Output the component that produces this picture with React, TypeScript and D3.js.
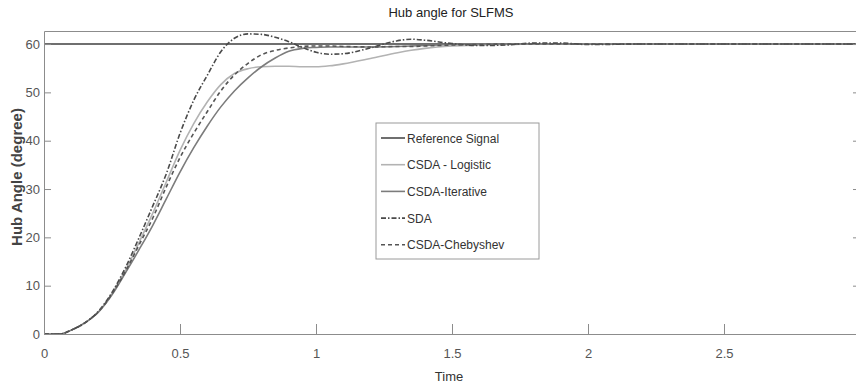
import { useEffect, useRef } from "react";
import * as d3 from "d3";

const W = 856;
const H = 387;

// time samples shared by all series
const TIME = [0, 0.06, 0.1, 0.15, 0.2, 0.25, 0.3, 0.35, 0.4, 0.45, 0.5, 0.55, 0.6, 0.65, 0.7, 0.75, 0.8, 0.85, 0.9, 0.95, 1.0, 1.05, 1.1, 1.2, 1.3, 1.35, 1.4, 1.5, 1.6, 1.7, 1.8, 1.9, 2.0, 2.2, 2.4, 2.6, 2.8, 3.0];

const REF_SIGNAL = TIME.map(() => 60);
const CSDA_LOGISTIC = [0, 0, 0.8, 2.3, 4.6, 8.4, 13.2, 19, 25, 31.5, 38, 43.5, 48, 51.6, 53.9, 54.9, 55.3, 55.4, 55.4, 55.3, 55.3, 55.5, 55.9, 57.0, 58.2, 58.7, 59.1, 59.6, 59.8, 59.9, 60, 60, 60, 60, 60, 60, 60, 60];
const CSDA_ITERATIVE = [0, 0, 0.8, 2.3, 4.5, 8.1, 12.7, 17.5, 22.5, 28, 33.5, 38.5, 43, 47, 50.3, 53, 55.3, 57.1, 58.5, 59.1, 59.3, 59.4, 59.4, 59.4, 59.5, 59.6, 59.7, 59.9, 60, 60, 60, 60, 60, 60, 60, 60, 60, 60];
const SDA = [0, 0, 0.8, 2.3, 4.7, 8.6, 13.8, 20, 26.5, 33.2, 41.5, 48.3, 53.5, 58.4, 61.2, 62.1, 62.0, 61.4, 60.5, 59.3, 58.3, 57.9, 58.0, 59.2, 60.7, 61.0, 60.8, 60.1, 59.7, 59.8, 60.2, 60.2, 59.9, 60, 60, 60, 60, 60];
const CSDA_CHEBYSHEV = [0, 0, 0.8, 2.3, 4.6, 8.3, 13, 18.5, 24, 30.5, 36.5, 41.5, 46, 50.3, 53.6, 56, 57.8, 58.7, 59.2, 59.5, 59.6, 59.6, 59.5, 59.4, 59.5, 59.5, 59.6, 59.8, 59.9, 60, 60, 60, 60, 60, 60, 60, 60, 60];

const X_TICKS = [0, 0.5, 1, 1.5, 2, 2.5, 3];
const Y_TICKS = [0, 10, 20, 30, 40, 50, 60];

const SERIES = [
  { name: "Reference Signal", values: REF_SIGNAL, color: "#6f6f6f", width: 2, dash: "" },
  { name: "CSDA - Logistic", values: CSDA_LOGISTIC, color: "#b3b3b3", width: 1.6, dash: "" },
  { name: "CSDA-Iterative", values: CSDA_ITERATIVE, color: "#7c7c7c", width: 1.6, dash: "" },
  { name: "SDA", values: SDA, color: "#4a4a4a", width: 1.6, dash: "5,2,1.5,2" },
  { name: "CSDA-Chebyshev", values: CSDA_CHEBYSHEV, color: "#555555", width: 1.6, dash: "4,3" },
];

const FONT = "'Liberation Sans', Arial, sans-serif";

export default function App() {
  const svgRef = useRef<SVGSVGElement>(null);

  useEffect(() => {
    if (!svgRef.current) return;
    const svg = d3.select(svgRef.current);
    svg.selectAll("*").remove();

    const L = 44, R = 860, T = 31, B = 334;
    const x = d3.scaleLinear().domain([0, 3]).range([L, R]);
    const y = d3.scaleLinear().domain([0, 62.7]).range([B, T]);

    svg.append("rect").attr("width", W).attr("height", H).attr("fill", "#fff");

    svg.append("defs").append("clipPath").attr("id", "plot-clip")
      .append("rect").attr("x", L).attr("y", T).attr("width", R - L).attr("height", B - T);

    // curves
    const plot = svg.append("g").attr("clip-path", "url(#plot-clip)");
    for (const s of SERIES) {
      const line = d3.line<number>()
        .x((_, i) => x(TIME[i]))
        .y(d => y(d))
        .curve(d3.curveMonotoneX);
      plot.append("path").datum(s.values)
        .attr("d", line)
        .attr("fill", "none")
        .attr("stroke", s.color)
        .attr("stroke-width", s.width)
        .attr("stroke-dasharray", s.dash || null);
    }

    const axisStyle = (g: d3.Selection<SVGGElement, unknown, null, undefined>) => {
      g.select(".domain").attr("stroke", "#8c8c8c");
      g.selectAll("line").attr("stroke", "#8c8c8c");
      g.selectAll("text").attr("fill", "#555").attr("font-size", 13).attr("font-family", FONT);
    };

    // bottom / left axes with inward ticks
    svg.append("g").attr("transform", `translate(0,${B})`)
      .call(d3.axisBottom(x).tickValues(X_TICKS).tickSizeInner(-10).tickSizeOuter(0).tickPadding(15).tickFormat(d => `${d}`))
      .call(axisStyle);
    svg.append("g").attr("transform", `translate(${L},0)`)
      .call(d3.axisLeft(y).tickValues(Y_TICKS).tickSizeInner(-7).tickSizeOuter(0).tickPadding(4).tickFormat(d => `${d}`))
      .call(axisStyle);
    // top / right box
    svg.append("g").attr("transform", `translate(0,${T})`)
      .call(d3.axisTop(x).tickValues([]).tickSizeOuter(0))
      .call(axisStyle);
    svg.append("g").attr("transform", `translate(${R},0)`)
      .call(d3.axisRight(y).tickValues(Y_TICKS).tickSizeInner(-7).tickSizeOuter(0).tickFormat(() => ""))
      .call(axisStyle);

    // title and labels
    svg.append("text").attr("x", 451).attr("y", 17).attr("text-anchor", "middle")
      .attr("font-family", FONT).attr("font-size", 13).attr("fill", "#222")
      .text("Hub angle for SLFMS");
    svg.append("text").attr("x", 449).attr("y", 381).attr("text-anchor", "middle")
      .attr("font-family", FONT).attr("font-size", 13).attr("fill", "#333")
      .text("Time");
    svg.append("text")
      .attr("transform", `translate(22,177) rotate(-90)`)
      .attr("text-anchor", "middle")
      .attr("font-family", FONT).attr("font-size", 15).attr("font-weight", 700).attr("fill", "#444")
      .text("Hub Angle (degree)");

    // legend
    const lg = svg.append("g").attr("transform", "translate(376,123)");
    lg.append("rect").attr("width", 163).attr("height", 136)
      .attr("fill", "#fff").attr("stroke", "#9a9a9a").attr("stroke-width", 1);
    SERIES.forEach((s, i) => {
      const ry = 15 + i * 26.7;
      lg.append("line").attr("x1", 5).attr("x2", 29).attr("y1", ry).attr("y2", ry)
        .attr("stroke", s.color).attr("stroke-width", s.width)
        .attr("stroke-dasharray", s.dash || null);
      lg.append("text").attr("x", 31).attr("y", ry + 4.5)
        .attr("font-family", FONT).attr("font-size", 12).attr("fill", "#333")
        .text(s.name);
    });
  }, []);

  return (
    <svg ref={svgRef} width={W} height={H}
      style={{ position: "fixed", left: 0, top: 0, display: "block" }} />
  );
}
